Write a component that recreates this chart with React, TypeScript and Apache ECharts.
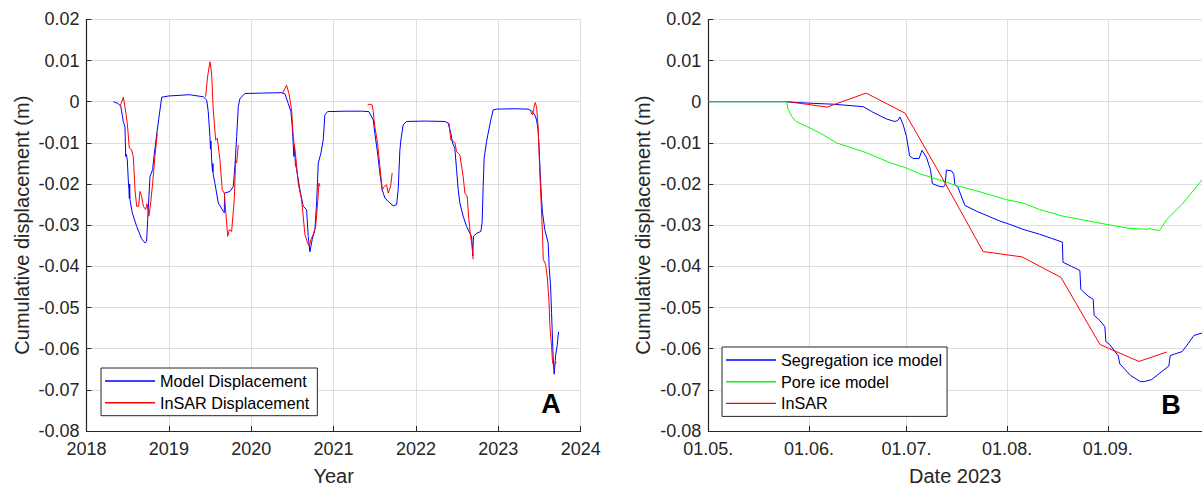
import React, { useEffect, useRef } from 'react';
import * as echarts from 'echarts';

// ---------- Panel A (years) ----------
const modelYear = [
  2018.325, 2018.38, 2018.415, 2018.447, 2018.467, 2018.476, 2018.485, 2018.495, 2018.51, 2018.516, 2018.52, 2018.524, 2018.528,
  2018.556, 2018.609, 2018.67, 2018.71, 2018.73, 2018.743, 2018.771, 2018.803, 2018.819, 2018.859, 2018.892, 2018.913,
  2019.0, 2019.25, 2019.418, 2019.459, 2019.478, 2019.499, 2019.505, 2019.51, 2019.519, 2019.53, 2019.535, 2019.539,
  2019.559, 2019.6, 2019.66, 2019.673, 2019.676, 2019.742, 2019.782, 2019.802, 2019.823, 2019.843, 2019.863, 2019.924,
  2020.15, 2020.369, 2020.409, 2020.449, 2020.482, 2020.498, 2020.518, 2020.525, 2020.535, 2020.551, 2020.591, 2020.631,
  2020.672, 2020.692, 2020.712, 2020.74, 2020.773, 2020.794, 2020.814, 2020.846, 2020.874, 2020.894, 2020.927,
  2021.15, 2021.34, 2021.428, 2021.481, 2021.501, 2021.534, 2021.562, 2021.59, 2021.623, 2021.683, 2021.723, 2021.765,
  2021.784, 2021.805, 2021.817, 2021.845, 2021.886, 2022.1, 2022.351, 2022.391, 2022.424, 2022.445, 2022.472, 2022.493,
  2022.513, 2022.533, 2022.573, 2022.614, 2022.654, 2022.675, 2022.69, 2022.698, 2022.735, 2022.788, 2022.803, 2022.816,
  2022.828, 2022.857, 2022.876, 2022.909, 2022.937, 2022.978, 2023.2, 2023.362, 2023.403, 2023.443, 2023.464, 2023.483,
  2023.496, 2023.512, 2023.525, 2023.537, 2023.564, 2023.605, 2023.617, 2023.634, 2023.646, 2023.658, 2023.666, 2023.678,
  2023.695, 2023.714, 2023.731,
];
const modelDisp = [
  0, -0.0004, -0.001, -0.0048, -0.0061, -0.0133, -0.0128, -0.0141, -0.02, -0.0214, -0.0235, -0.02, -0.0238,
  -0.027, -0.0303, -0.0333, -0.0343, -0.0339, -0.0286, -0.0182, -0.0165, -0.0133, -0.0069, -0.002, 0.0011,
  0.0014, 0.0017, 0.0012, 0.0004, -0.0024, -0.0085, -0.0115, -0.0095, -0.0141, -0.017, -0.015, -0.0177,
  -0.0198, -0.0246, -0.0266, -0.027, -0.0222, -0.0218, -0.0206, -0.0157, -0.0085, -0.0012, 0.0008, 0.002,
  0.0021, 0.0022, 0.0019, -0.0004, -0.0024, -0.0061, -0.0133, -0.0105, -0.015, -0.0165, -0.0214, -0.0254,
  -0.0262, -0.0327, -0.0365, -0.0335, -0.0311, -0.0246, -0.0149, -0.0125, -0.0093, -0.0032, -0.0024,
  -0.0023, -0.0023, -0.0024, -0.0044, -0.0077, -0.0125, -0.0173, -0.0214, -0.0234, -0.0246, -0.0253, -0.025,
  -0.0214, -0.0117, -0.0093, -0.0056, -0.0048, -0.0047, -0.0048, -0.0052, -0.0077, -0.0101, -0.0113, -0.0165,
  -0.0214, -0.0246, -0.0278, -0.0303, -0.0319, -0.0327, -0.0375, -0.0327, -0.032, -0.0315, -0.0294, -0.0206,
  -0.0137, -0.0097, -0.0077, -0.0044, -0.002, -0.0018, -0.0017, -0.0018, -0.0022, -0.0032, -0.0044, -0.0069,
  -0.0117, -0.019, -0.0238, -0.027, -0.0311, -0.0343, -0.04, -0.0448, -0.0512, -0.0577, -0.0625, -0.0662,
  -0.0617, -0.0593, -0.0559,
];
// null marks a gap between InSAR seasons
const insarYear = [
  2018.407, 2018.447, 2018.467, 2018.495, 2018.52, 2018.548, 2018.568, 2018.589, 2018.609, 2018.633, 2018.649, 2018.67,
  2018.69, 2018.718, 2018.734, 2018.758, 2018.779, 2018.803, 2018.831, 2018.859, 2019.1,
  2019.446, 2019.47, 2019.499, 2019.519, 2019.539, 2019.568, 2019.588, 2019.62, 2019.648, 2019.673, 2019.701, 2019.714,
  2019.734, 2019.762, 2019.794, 2019.811, 2019.823, 2019.843, 2020.1,
  2020.377, 2020.429, 2020.458, 2020.49, 2020.51, 2020.545, 2020.57, 2020.612, 2020.652, 2020.684, 2020.704, 2020.725,
  2020.752, 2020.782, 2020.806, 2020.822, 2020.834, 2021.1,
  2021.413, 2021.441, 2021.469, 2021.481, 2021.501, 2021.534, 2021.562, 2021.59, 2021.615, 2021.644, 2021.663, 2021.692,
  2021.711, 2022.1,
  2022.399, 2022.424, 2022.451, 2022.472, 2022.493, 2022.533, 2022.573, 2022.594, 2022.622, 2022.642, 2022.663, 2022.682,
  2022.694, 2023.1,
  2023.391, 2023.415, 2023.431, 2023.447, 2023.464, 2023.483, 2023.504, 2023.525, 2023.537, 2023.545, 2023.574, 2023.593,
  2023.614, 2023.626, 2023.646, 2023.658, 2023.674, 2023.686, 2023.706,
];
const insarDisp = [
  -0.0012, 0.0011, -0.0012, -0.0052, -0.0113, -0.0117, -0.0133, -0.0214, -0.0254, -0.0254, -0.0218, -0.023,
  -0.0254, -0.0262, -0.0248, -0.0278, -0.0246, -0.0198, -0.0133, -0.0077, null,
  0.0012, 0.0061, 0.0097, 0.0069, -0.002, -0.0093, -0.0089, -0.0141, -0.0214, -0.0222, -0.0294, -0.0327,
  -0.0311, -0.0315, -0.0238, -0.0141, -0.0149, -0.0105, null,
  0.002, 0.004, 0.002, -0.002, -0.0085, -0.0141, -0.0198, -0.0238, -0.0323, -0.0343, -0.0351, -0.0335,
  -0.0323, -0.0303, -0.0246, -0.0198, -0.0206, null,
  -0.0008, -0.0006, -0.0008, -0.0024, -0.0061, -0.0101, -0.0157, -0.0214, -0.0206, -0.0202, -0.0222, -0.0206,
  -0.0173, null,
  -0.0051, -0.0093, -0.0097, -0.0099, -0.0121, -0.0129, -0.0182, -0.0222, -0.023, -0.0286, -0.0327, -0.0351,
  -0.0383, null,
  -0.0024, -0.0032, -0.0016, -0.0002, -0.0012, -0.0061, -0.0173, -0.027, -0.0327, -0.0383, -0.0395, -0.0424,
  -0.048, -0.0545, -0.0593, -0.0633, -0.0642, -0.0638, -0.0632,
];

// ---------- Panel B (days after 01.05.2023) ----------
const segDay = [
  0, 24.1, 25.1, 32.3, 38.5, 47.7, 50.3, 52.3, 54.9, 57.4, 58.3, 59.0, 60.0, 61.0, 62.0, 63.1, 64.9, 65.8, 67.2, 68.4,
  69.0, 70.8, 72.3, 72.9, 73.3, 74.9, 75.6, 75.9, 76.9, 79.0, 82.6, 89.8, 92.8, 96.9, 102.0, 105.7, 109.0, 109.2, 111.8,
  114.4, 114.7, 116.9, 118.5, 118.8, 120.5, 122.1, 122.4, 123.6, 126.2, 126.7, 130.0, 133.0, 134.2, 136.5, 141.8, 142.2,
  143.6, 145.9, 147.7, 149.5, 152.0,
];
const segDisp = [
  0, 0, -0.0001, -0.0004, -0.0006, -0.0012, -0.0024, -0.0032, -0.0042, -0.0048, -0.0046, -0.0037, -0.0056, -0.0084,
  -0.0132, -0.0138, -0.0138, -0.0118, -0.0136, -0.0165, -0.0199, -0.0205, -0.0207, -0.0203, -0.0166, -0.0168, -0.0177,
  -0.0201, -0.0209, -0.0252, -0.0266, -0.029, -0.0298, -0.031, -0.0322, -0.0332, -0.0341, -0.039, -0.04, -0.041,
  -0.0456, -0.0472, -0.048, -0.0519, -0.0531, -0.0547, -0.0583, -0.059, -0.0617, -0.0637, -0.0665, -0.068, -0.068,
  -0.0675, -0.0642, -0.0617, -0.0613, -0.0607, -0.0588, -0.0568, -0.0562,
];
const poreDay = [
  0, 24.1, 24.6, 25.7, 27.0, 30.3, 34.4, 39.5, 48.7, 55.9, 61.0, 65.1, 72.3, 76.4, 81.5, 91.8, 96.9, 102.0, 109.2,
  122.6, 129.8, 135.3, 136.0, 136.5, 138.9, 141.2, 145.9, 152.0,
];
const poreDisp = [
  0, 0, -0.0019, -0.0036, -0.0048, -0.006, -0.0076, -0.01, -0.0124, -0.0148, -0.0161, -0.0175, -0.0193, -0.0204,
  -0.0214, -0.0238, -0.0246, -0.0262, -0.0278, -0.0298, -0.0308, -0.031, -0.0307, -0.031, -0.0313, -0.0286, -0.0249,
  -0.019,
];
const insarBDay = [24.6, 36.6, 48.6, 60.6, 72.8, 84.6, 96.6, 108.6, 120.6, 132.6, 141.2];
const insarBDisp = [0, -0.0013, 0.0021, -0.0028, -0.0196, -0.0364, -0.0377, -0.0427, -0.059, -0.0631, -0.0608];

const yTicksMin = -0.08;
const yTicksMax = 0.02;

const DAY = 86400000;
const T0 = Date.UTC(2023, 4, 1);

const zipXY = (xs: number[], ys: (number | null)[]) => xs.map((x, i) => [x, ys[i] === null ? '-' : ys[i]]);
const zipDays = (xs: number[], ys: number[]) => xs.map((x, i) => [T0 + x * DAY, ys[i]]);

const FONT = 'Liberation Sans, Arial, Helvetica, sans-serif';
const AX = '#262626';
const GRID = '#dedede';

const pad2 = (n: number) => (n < 10 ? '0' + n : '' + n);
const yFmt = (v: number) => (Math.abs(v) < 1e-9 ? '0' : v.toFixed(2));

function yAxis(gridIndex: number) {
  return {
    type: 'value',
    gridIndex,
    min: yTicksMin,
    max: yTicksMax,
    interval: 0.01,
    name: 'Cumulative displacement (m)',
    nameLocation: 'middle',
    nameGap: 55,
    nameTextStyle: { fontSize: 20, color: AX, fontFamily: FONT },
    axisLine: { show: true, lineStyle: { color: AX, width: 1.2 } },
    axisTick: { show: true, inside: true, length: 5, lineStyle: { color: AX } },
    axisLabel: { fontSize: 18, color: AX, margin: 7, fontFamily: FONT, formatter: yFmt },
    splitLine: { show: true, lineStyle: { color: GRID, width: 1 } },
  };
}

const legendBase = {
  orient: 'vertical',
  icon: 'rect',
  itemWidth: 50,
  itemHeight: 1.4,
  itemGap: 1.7,
  borderColor: AX,
  borderWidth: 1,
  borderRadius: 0,
  backgroundColor: '#ffffff',
  selectedMode: false,
  textStyle: { fontSize: 16.2, color: '#000', fontFamily: FONT, lineHeight: 20 },
};

export default function App() {
  const ref = useRef<HTMLDivElement>(null);
  useEffect(() => {
    document.body.style.margin = '0';
    const chart = echarts.init(ref.current!, null, { renderer: 'svg' });
    chart.setOption({
      animation: false,
      useUTC: true,
      backgroundColor: '#ffffff',
      textStyle: { fontFamily: FONT },
      grid: [
        { left: 86.5, top: 19.4, width: 494.2, height: 413.2 },
        { left: 708.3, top: 19.4, width: 494, height: 413.2 },
      ],
      xAxis: [
        {
          type: 'value',
          gridIndex: 0,
          min: 2018,
          max: 2024,
          interval: 1,
          name: 'Year',
          nameLocation: 'middle',
          nameGap: 35,
          nameTextStyle: { fontSize: 20, color: AX, fontFamily: FONT },
          axisLine: { show: true, onZero: false, lineStyle: { color: AX, width: 1.2 } },
          axisTick: { show: true, inside: true, length: 5, lineStyle: { color: AX } },
          axisLabel: { fontSize: 18, color: AX, margin: 9, fontFamily: FONT, formatter: (v: number) => String(v) },
          splitLine: { show: true, lineStyle: { color: GRID, width: 1 } },
        },
        {
          type: 'time',
          gridIndex: 1,
          min: T0,
          max: T0 + 152 * DAY,
          minInterval: 28 * DAY,
          maxInterval: 31 * DAY,
          name: 'Date 2023',
          nameLocation: 'middle',
          nameGap: 35,
          nameTextStyle: { fontSize: 20, color: AX, fontFamily: FONT },
          axisLine: { show: true, onZero: false, lineStyle: { color: AX, width: 1.2 } },
          axisTick: { show: true, inside: true, length: 5, lineStyle: { color: AX } },
          axisLabel: {
            fontSize: 18,
            color: AX,
            margin: 9,
            fontFamily: FONT,
            hideOverlap: false,
            formatter: (v: number) => {
              const d = new Date(v);
              return pad2(d.getUTCDate()) + '.' + pad2(d.getUTCMonth() + 1) + '.';
            },
          },
          splitLine: { show: true, lineStyle: { color: GRID, width: 1 } },
        },
      ],
      yAxis: [yAxis(0), yAxis(1)],
      legend: [
        {
          ...legendBase,
          data: ['Model Displacement', 'InSAR Displacement'],
          left: 101,
          top: 368,
          padding: [3, 8, 3, 4],
        },
        {
          ...legendBase,
          data: ['Segregation ice model', 'Pore ice model', 'InSAR'],
          left: 722,
          top: 347,
          padding: [3, 5, 3, 4],
        },
      ],
      graphic: [
        {
          type: 'text',
          x: 551,
          y: 404,
          style: { text: 'A', fontSize: 27, fontWeight: 'bold', fontFamily: FONT, fill: '#000', align: 'center', verticalAlign: 'middle' },
          z: 100,
        },
        {
          type: 'text',
          x: 1171,
          y: 405,
          style: { text: 'B', fontSize: 27, fontWeight: 'bold', fontFamily: FONT, fill: '#000', align: 'center', verticalAlign: 'middle' },
          z: 100,
        },
      ],
      series: [
        {
          name: 'Model Displacement',
          type: 'line',
          xAxisIndex: 0,
          yAxisIndex: 0,
          data: zipXY(modelYear, modelDisp),
          symbol: 'none',
          showSymbol: false,
          lineStyle: { color: '#0000ff', width: 1 },
          itemStyle: { color: '#0000ff' },
        },
        {
          name: 'InSAR Displacement',
          type: 'line',
          xAxisIndex: 0,
          yAxisIndex: 0,
          data: zipXY(insarYear, insarDisp),
          connectNulls: false,
          symbol: 'none',
          showSymbol: false,
          lineStyle: { color: '#ff0000', width: 1 },
          itemStyle: { color: '#ff0000' },
        },
        {
          name: 'Segregation ice model',
          type: 'line',
          xAxisIndex: 1,
          yAxisIndex: 1,
          data: zipDays(segDay, segDisp),
          symbol: 'none',
          showSymbol: false,
          lineStyle: { color: '#0000ff', width: 1 },
          itemStyle: { color: '#0000ff' },
        },
        {
          name: 'Pore ice model',
          type: 'line',
          xAxisIndex: 1,
          yAxisIndex: 1,
          data: zipDays(poreDay, poreDisp),
          symbol: 'none',
          showSymbol: false,
          lineStyle: { color: '#00ff00', width: 1 },
          itemStyle: { color: '#00ff00' },
        },
        {
          name: 'InSAR',
          type: 'line',
          xAxisIndex: 1,
          yAxisIndex: 1,
          data: zipDays(insarBDay, insarBDisp),
          symbol: 'none',
          showSymbol: false,
          lineStyle: { color: '#ff0000', width: 1 },
          itemStyle: { color: '#ff0000' },
        },
      ],
    });
    return () => chart.dispose();
  }, []);
  return <div ref={ref} style={{ width: 1202, height: 491 }} />;
}
